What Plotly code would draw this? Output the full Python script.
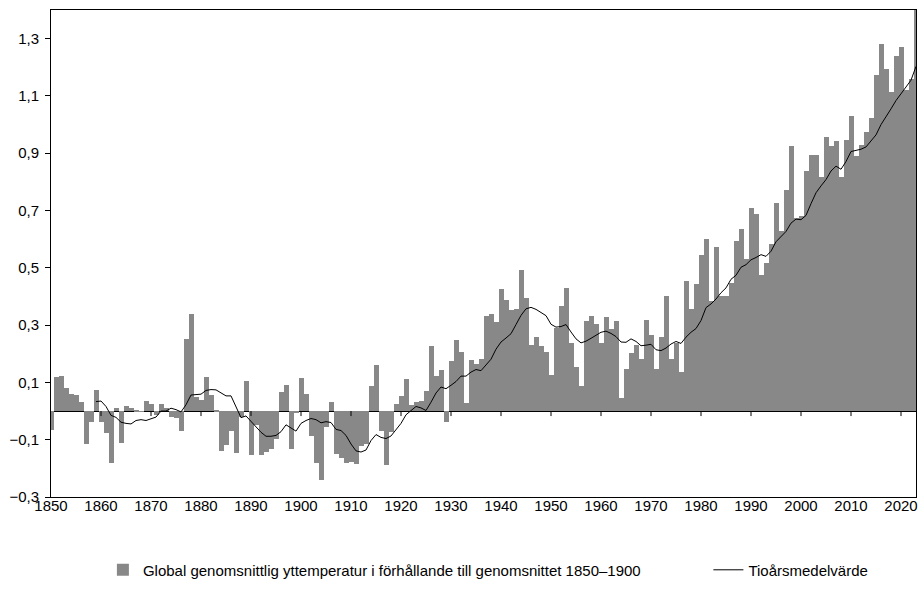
import plotly.graph_objects as go

# Yearly global surface temperature relative to 1850-1900 (°C)
years = list(range(1850, 2024))
anomaly = [
    -0.065, 0.120, 0.123, 0.081, 0.060, 0.055, 0.032, -0.114, -0.038, 0.072,   # 1850s
    -0.038, -0.077, -0.183, 0.009, -0.112, 0.019, 0.012, 0.003, -0.002, 0.035,  # 1860s
    0.024, -0.012, 0.025, 0.011, -0.019, -0.025, -0.070, 0.250, 0.340, 0.048,   # 1870s
    0.037, 0.119, 0.055, 0.005, -0.138, -0.118, -0.068, -0.146, -0.020, 0.105,  # 1880s
    -0.153, -0.048, -0.154, -0.143, -0.131, -0.096, 0.067, 0.091, -0.132, -0.005,  # 1890s
    0.117, 0.059, -0.086, -0.180, -0.242, -0.056, 0.032, -0.150, -0.165, -0.182,  # 1900s
    -0.178, -0.185, -0.123, -0.115, 0.089, 0.160, -0.070, -0.189, -0.073, 0.026,  # 1910s
    0.054, 0.112, 0.020, 0.032, 0.034, 0.070, 0.227, 0.123, 0.144, -0.039,     # 1920s
    0.174, 0.248, 0.206, 0.029, 0.177, 0.163, 0.182, 0.332, 0.339, 0.310,      # 1930s
    0.426, 0.388, 0.352, 0.355, 0.494, 0.394, 0.232, 0.259, 0.226, 0.207,      # 1940s
    0.125, 0.290, 0.366, 0.429, 0.236, 0.154, 0.089, 0.315, 0.333, 0.303,      # 1950s
    0.238, 0.330, 0.287, 0.314, 0.046, 0.147, 0.203, 0.232, 0.182, 0.319,      # 1960s
    0.267, 0.147, 0.257, 0.401, 0.180, 0.238, 0.137, 0.453, 0.355, 0.442,      # 1970s
    0.546, 0.601, 0.383, 0.574, 0.402, 0.402, 0.446, 0.593, 0.634, 0.530,      # 1980s
    0.710, 0.689, 0.475, 0.517, 0.583, 0.728, 0.628, 0.772, 0.927, 0.675,      # 1990s
    0.682, 0.838, 0.894, 0.894, 0.817, 0.957, 0.924, 0.941, 0.816, 0.947,      # 2000s
    1.029, 0.889, 0.928, 0.973, 1.023, 1.173, 1.283, 1.194, 1.113, 1.239,      # 2010s
    1.271, 1.120, 1.160, 1.450,                                                # 2020s
]

# Ten-year mean
mean_years = list(range(1859, 2024))
ten_year_mean = [
    0.033,
    0.035, 0.016, -0.015, -0.022, -0.039, -0.043, -0.045, -0.033, -0.030, -0.033,
    -0.027, -0.021, 0.000, 0.000, 0.010, 0.005, -0.003, 0.022, 0.056, 0.057,
    0.059, 0.072, 0.075, 0.074, 0.062, 0.053, 0.053, 0.013, -0.023, -0.017,
    -0.036, -0.053, -0.074, -0.088, -0.088, -0.085, -0.072, -0.048, -0.059, -0.070,
    -0.043, -0.033, -0.026, -0.030, -0.041, -0.037, -0.040, -0.064, -0.068, -0.085,
    -0.115, -0.139, -0.143, -0.136, -0.103, -0.082, -0.092, -0.096, -0.087, -0.066,
    -0.043, -0.013, 0.001, 0.016, 0.011, 0.002, 0.031, 0.063, 0.084, 0.078,
    0.090, 0.103, 0.122, 0.122, 0.136, 0.145, 0.141, 0.162, 0.181, 0.216,
    0.241, 0.255, 0.270, 0.302, 0.334, 0.357, 0.362, 0.355, 0.344, 0.333,
    0.303, 0.293, 0.295, 0.302, 0.276, 0.252, 0.238, 0.244, 0.254, 0.264,
    0.275, 0.279, 0.271, 0.260, 0.241, 0.240, 0.252, 0.243, 0.228, 0.230,
    0.233, 0.214, 0.211, 0.220, 0.234, 0.243, 0.236, 0.258, 0.275, 0.288,
    0.316, 0.361, 0.374, 0.391, 0.413, 0.430, 0.460, 0.474, 0.502, 0.511,
    0.528, 0.536, 0.546, 0.540, 0.558, 0.591, 0.609, 0.627, 0.656, 0.670,
    0.668, 0.683, 0.724, 0.762, 0.786, 0.808, 0.838, 0.855, 0.844, 0.871,
    0.906, 0.911, 0.914, 0.922, 0.943, 0.964, 1.000, 1.026, 1.055, 1.084,
    1.109, 1.132, 1.155, 1.203,
]

x_ticks = list(range(1850, 2021, 10))
y_ticks = [-0.3, -0.1, 0.1, 0.3, 0.5, 0.7, 0.9, 1.1, 1.3]

bar_name = "Global genomsnittlig yttemperatur i förhållande till genomsnittet 1850–1900"
line_name = "Tioårsmedelvärde"

fig = go.Figure()
fig.add_trace(go.Bar(x=years, y=anomaly, name=bar_name, width=1,
                     marker=dict(color="#888888", line_width=0), legend="legend"))
fig.add_trace(go.Scatter(x=mean_years, y=ten_year_mean, mode="lines", name=line_name,
                         line=dict(color="black", width=1), legend="legend2"))

# little tick marks hanging below the zero line at each decade
for yr in x_ticks[1:]:
    fig.add_shape(type="line", xref="x", yref="y", x0=yr, x1=yr,
                  ysizemode="pixel", yanchor=0, y0=0, y1=-5,
                  line=dict(color="black", width=1), layer="above")

legend_style = dict(orientation="h", yanchor="middle", xanchor="left", y=-0.15,
                    bgcolor="rgba(0,0,0,0)", font=dict(size=15, color="black"))

fig.update_layout(
    width=920, height=605,
    margin=dict(l=51, r=2, t=10, b=108),
    plot_bgcolor="white", paper_bgcolor="white",
    font=dict(family="Liberation Sans, Arial, sans-serif", size=15, color="black"),
    separators=", ",
    bargap=0,
    showlegend=True,
    legend=dict(x=0.06, **legend_style),
    legend2=dict(x=0.760, **legend_style),
)
fig.update_xaxes(range=[1850, 2023], tickvals=x_ticks, ticks="", ticklabelstandoff=-5,
                 showgrid=False, zeroline=False, showline=True, mirror=True,
                 linecolor="black", linewidth=1)
fig.update_yaxes(range=[-0.3, 1.4], tickvals=y_ticks, tickformat=".1f",
                 ticks="outside", ticklen=5, tickcolor="black", ticklabelstandoff=3,
                 showgrid=False, showline=True, mirror=True, linecolor="black", linewidth=1,
                 zeroline=True, zerolinecolor="black", zerolinewidth=1)

# drop the default page margin so the figure sits flush in the window
fig.write_html("out.html", config={"displayModeBar": False},
               post_script="document.body.style.margin='0px';")
